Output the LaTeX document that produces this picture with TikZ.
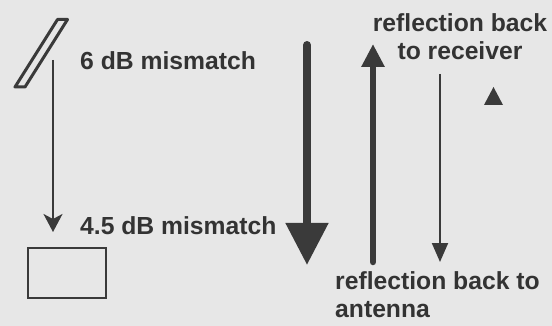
\documentclass[tikz,border=0pt]{standalone}
\usepackage{fontspec}
\setmainfont{Liberation Sans}
\usetikzlibrary{arrows.meta}
\definecolor{bg}{HTML}{E7E7E7}
\definecolor{ink}{HTML}{3A3A3A}
\definecolor{txt}{HTML}{333333}
\begin{document}
\begin{tikzpicture}[x=1pt,y=-1pt,
  lbl/.style={inner sep=0pt, text=txt, font=\bfseries\fontsize{24.7}{28}\selectfont},
  ln/.style={draw=ink, color=ink}]
\fill[bg] (0,0) rectangle (552,326);
\useasboundingbox (0,0) rectangle (552,326);
% antenna
\draw[ln, line width=3pt, line join=round] (15,87) -- (25,87) -- (67.5,19.5) -- (57.5,19.5) -- cycle;
% left feed arrow
\coordinate (feedtop) at (53,60);
\coordinate (feedend) at (53,232);
\draw[ln, line width=2pt, -{Stealth[width=19pt,length=18pt,inset=5pt]}] (feedtop) -- (feedend);
% receiver box
\node[ln, draw, line width=2pt, minimum width=78pt, minimum height=50pt, inner sep=0pt] (rx) at (67,273) {};
% labels
\node[lbl, anchor=base west] (l6) at (80,70) {6 dB mismatch};
\node[lbl, anchor=base west] (l45) at (80,235) {4.5 dB mismatch};
\node[lbl, anchor=north, align=center] (lrx) at (460,13.5) {reflection back\\to receiver};
\node[lbl, anchor=north west, align=left] (lant) at (335,271) {reflection back to\\antenna};
% right arrows
\coordinate (a1s) at (307,45);
\coordinate (a1e) at (307,265);
\draw[ln, line width=8pt, line cap=round, -{Triangle[width=41pt,length=42pt]}] (a1s) -- (a1e);
\coordinate (a2s) at (373,262);
\coordinate (a2e) at (373,44);
\draw[ln, line width=6.5pt, line cap=round, -{Triangle[width=22pt,length=23pt]}] (a2s) -- (a2e);
\coordinate (a3s) at (440,74);
\coordinate (a3e) at (440,262);
\draw[ln, line width=2pt, -{Triangle[width=16pt,length=19pt]}] (a3s) -- (a3e);
% small triangle
\fill[ink] (484,105) -- (503,105) -- (493.5,87) -- cycle;
\end{tikzpicture}
\end{document}
